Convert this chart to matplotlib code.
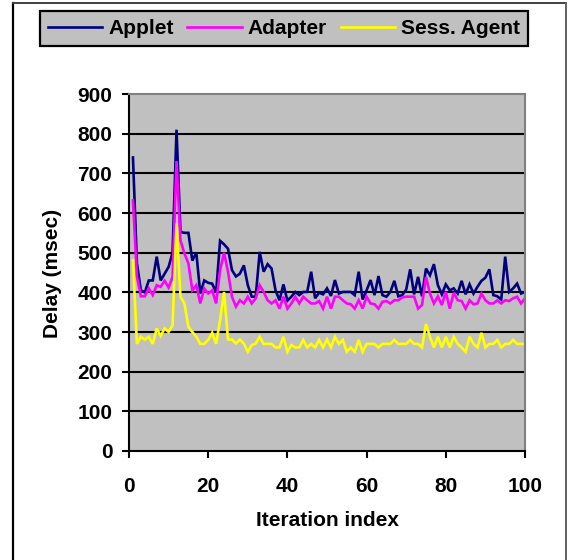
import matplotlib
matplotlib.use("Agg")
import matplotlib.pyplot as plt
from matplotlib.lines import Line2D

iterations = list(range(1, 101))

applet = [740, 473, 405, 400, 430, 430, 490, 430, 447, 464,
          500, 810, 552, 550, 550, 480, 500, 397, 430, 424,
          422, 400, 530, 521, 510, 456, 440, 447, 468, 418,
          389, 389, 502, 452, 471, 460, 405, 380, 420, 379,
          389, 401, 393, 401, 401, 452, 385, 399, 395, 410,
          391, 431, 397, 401, 401, 401, 393, 452, 382, 405,
          431, 393, 441, 393, 389, 401, 429, 390, 393, 407,
          458, 395, 439, 390, 460, 443, 471, 418, 395, 420,
          405, 410, 397, 429, 395, 420, 397, 414, 429, 437,
          458, 393, 390, 382, 490, 401, 410, 422, 397, 401]

adapter = [632, 440, 390, 390, 410, 393, 418, 414, 429, 412,
           439, 731, 531, 498, 473, 405, 418, 372, 410, 397,
           405, 372, 456, 500, 452, 389, 364, 380, 372, 389,
           372, 385, 418, 401, 380, 372, 380, 359, 389, 359,
           372, 389, 372, 389, 380, 372, 372, 378, 359, 389,
           359, 389, 389, 380, 372, 370, 359, 380, 359, 389,
           372, 370, 359, 376, 378, 372, 380, 380, 387, 389,
           389, 389, 359, 368, 439, 397, 372, 390, 368, 401,
           359, 399, 380, 378, 359, 380, 370, 372, 397, 380,
           372, 372, 380, 372, 380, 378, 385, 389, 372, 385]

sess_agent = [481, 270, 288, 281, 288, 270, 309, 290, 309, 300,
              317, 573, 389, 372, 313, 300, 288, 270, 270, 280,
              298, 270, 330, 401, 281, 281, 271, 281, 271, 250,
              267, 271, 288, 270, 270, 270, 261, 261, 288, 250,
              267, 261, 261, 280, 261, 270, 261, 280, 261, 281,
              261, 288, 270, 280, 250, 261, 250, 280, 250, 270,
              270, 270, 261, 270, 270, 270, 280, 270, 270, 270,
              280, 270, 270, 261, 320, 288, 261, 288, 261, 288,
              261, 288, 270, 261, 250, 288, 270, 261, 298, 261,
              270, 270, 280, 261, 270, 270, 280, 270, 270, 270]

series_names = ["Applet", "Adapter", "Sess. Agent"]
series_colors = ["#000080", "#FF00FF", "#FFFF00"]
x_ticks = [0, 20, 40, 60, 80, 100]
y_ticks = [0, 100, 200, 300, 400, 500, 600, 700, 800, 900]

plt.rcParams['font.family'] = ['Liberation Sans', 'DejaVu Sans']
plt.rcParams['font.weight'] = 'bold'

W, H = 568, 560
fig = plt.figure(figsize=(W / 100, H / 100), dpi=100)
fig.patch.set_facecolor('white')

# outer border
fig.add_artist(Line2D([13 / W, 13 / W], [0, 1 - 3 / H], color='black', lw=1.6, transform=fig.transFigure))
fig.add_artist(Line2D([13 / W, 566 / W], [1 - 3 / H, 1 - 3 / H], color='#404040', lw=1.4, transform=fig.transFigure))
fig.add_artist(Line2D([566 / W, 566 / W], [0, 1 - 3 / H], color='#606060', lw=1.4, transform=fig.transFigure))

left, right, top, bottom = 129, 525, 94, 451
ax = fig.add_axes([left / W, 1 - bottom / H, (right - left) / W, (bottom - top) / H])
ax.set_facecolor('#C0C0C0')

for vals, name, col in zip([applet, adapter, sess_agent], series_names, series_colors):
    ax.plot(iterations, vals, color=col, lw=1.9, label=name, solid_joinstyle='miter')

ax.set_xlim(0, 100)
ax.set_ylim(0, 900)
ax.set_xticks(x_ticks)
ax.set_yticks(y_ticks)
for yv in y_ticks[1:-1]:
    ax.axhline(yv, color='black', lw=1.5, zorder=1)

for s in ['left', 'bottom']:
    ax.spines[s].set_color('black')
    ax.spines[s].set_linewidth(1.5)
for s in ['top', 'right']:
    ax.spines[s].set_color('#808080')
    ax.spines[s].set_linewidth(1.5)

ax.tick_params(axis='y', direction='out', length=5, width=1.5, pad=7, labelsize=15)
ax.tick_params(axis='x', direction='out', length=5, width=1.5, pad=14, labelsize=15)
for lab in ax.get_xticklabels() + ax.get_yticklabels():
    lab.set_fontweight('bold')

fig.text(52 / W, 1 - 273 / H, "Delay (msec)", rotation=90, ha='center', va='center',
         fontsize=15, fontweight='bold')
fig.text(327 / W, 1 - 521 / H, "Iteration index", ha='center', va='center',
         fontsize=15, fontweight='bold')

leg = ax.legend(loc='center', bbox_to_anchor=(284 / W, 1 - 28.5 / H), bbox_transform=fig.transFigure,
                ncol=3, frameon=True, fancybox=False, facecolor='#C0C0C0', edgecolor='black',
                framealpha=1, prop={'size': 15, 'weight': 'bold'}, handlelength=2.6,
                handletextpad=0.3, columnspacing=0.65, borderpad=0.38, borderaxespad=0)
leg.get_frame().set_linewidth(1.6)

fig.savefig("out.png", dpi=100)
